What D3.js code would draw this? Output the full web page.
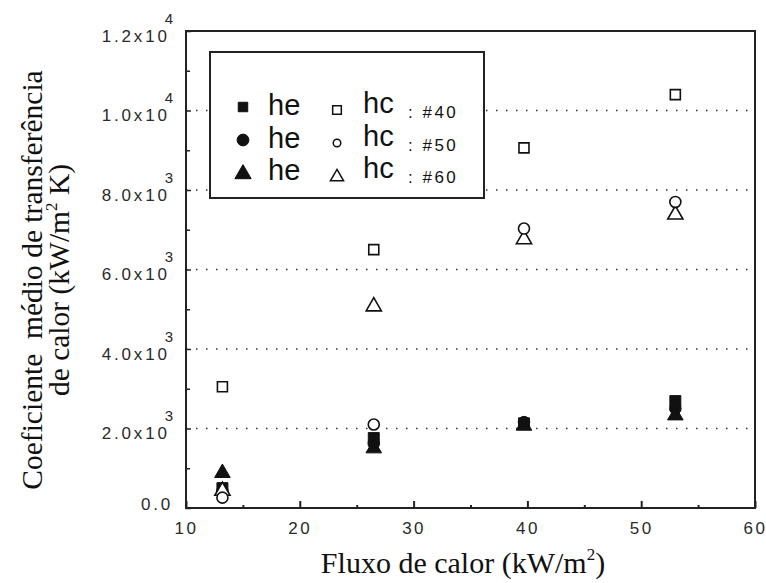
<!DOCTYPE html>
<html>
<head>
<meta charset="utf-8">
<script src="https://cdn.jsdelivr.net/npm/d3@7"></script>
<style>
  html, body { margin: 0; padding: 0; background: #fff; }
  svg { display: block; }
</style>
</head>
<body>
<div id="chart"></div>
<script>
(function() {
    "use strict";

    // data
    const fluxo = [13.2, 26.5, 39.7, 53.0];        // kW/m2
    const he40 = [500, 1760, 2130, 2690];
    const he50 = [430, 1620, 2160, 2500];
    const he60 = [880, 1500, 2070, 2330];
    const hc40 = [3050, 6500, 9060, 10400];
    const hc50 = [260, 2100, 7030, 7700];
    const hc60 = [430, 5070, 6760, 7380];
    const telas = ["#40", "#50", "#60"];

    // ticks
    const xTicks = [10, 20, 30, 40, 50, 60];
    const xMinor = [15, 25, 35, 45, 55];
    const yTicks = [0, 2000, 4000, 6000, 8000, 10000, 12000];
    const yMinor = [1000, 3000, 5000, 7000, 9000, 11000];
    const yMantissa = ["0.0", "2.0x10", "4.0x10", "6.0x10", "8.0x10", "1.0x10", "1.2x10"];
    const yExp = ["", "3", "3", "3", "3", "4", "4"];
    const gridValues = [2000, 4000, 6000, 8000, 10000];

    const width = 766, height = 583;
    const margin = {top: 31, right: 11, bottom: 75, left: 186};

    const svg = d3.select("#chart").append("svg")
        .attr("width", width).attr("height", height);

    const x = d3.scaleLinear().domain([10, 60]).range([margin.left, width - margin.right]);
    const y = d3.scaleLinear().domain([0, 12000]).range([height - margin.bottom, margin.top]);

    const sans = "'Liberation Sans', Arial, sans-serif";
    const serif = "'Liberation Serif', 'Times New Roman', serif";

    // dotted grid
    svg.append("g").selectAll("line")
        .data(gridValues).enter().append("line")
        .attr("x1", x(10)).attr("x2", x(60))
        .attr("y1", d => y(d)).attr("y2", d => y(d))
        .attr("stroke", "#333").attr("stroke-width", 1.5)
        .attr("stroke-dasharray", "1.5,8.5");

    // frame
    svg.append("rect")
        .attr("x", x(10)).attr("y", y(12000))
        .attr("width", x(60) - x(10)).attr("height", y(0) - y(12000))
        .attr("fill", "none").attr("stroke", "#222").attr("stroke-width", 2);

    // x axis
    const xAxis = svg.append("g")
        .attr("transform", `translate(0,${y(0)})`)
        .call(d3.axisBottom(x).tickValues(xTicks).tickSizeInner(-7).tickSizeOuter(0).tickPadding(14));
    xAxis.select(".domain").remove();
    xAxis.selectAll("line").attr("stroke", "#222").attr("stroke-width", 2);
    xAxis.selectAll("text")
        .attr("font-family", sans)
        .attr("font-size", 17).attr("letter-spacing", 2.5)
        .attr("dx", 0)
        .attr("fill", "#2a2a2a");

    svg.append("g")
        .attr("transform", `translate(0,${y(0)})`)
        .call(d3.axisBottom(x).tickValues(xMinor).tickSizeInner(-3).tickSizeOuter(0).tickFormat(""))
        .call(g => g.select(".domain").remove())
        .selectAll("line").attr("stroke", "#222").attr("stroke-width", 2);

    // y axis
    const yAxis = svg.append("g")
        .attr("transform", `translate(${x(10)},0)`)
        .call(d3.axisLeft(y).tickValues(yTicks).tickSizeInner(-5).tickSizeOuter(0).tickFormat(""));
    yAxis.select(".domain").remove();
    yAxis.selectAll("line").attr("stroke", "#222").attr("stroke-width", 1.5);

    svg.append("g")
        .attr("transform", `translate(${x(10)},0)`)
        .call(d3.axisLeft(y).tickValues(yMinor).tickSizeInner(-4).tickSizeOuter(0).tickFormat(""))
        .call(g => g.select(".domain").remove())
        .selectAll("line").attr("stroke", "#222").attr("stroke-width", 1.5);

    const yLab = svg.append("g").selectAll("text")
        .data(yTicks).enter().append("text")
        .attr("x", 173)
        .attr("y", (d, i) => y(d) + (yExp[i] ? 10.5 : 2))
        .attr("text-anchor", "end")
        .attr("font-family", sans)
        .attr("fill", "#2a2a2a");
    yLab.append("tspan")
        .attr("font-size", 17).attr("letter-spacing", 2.8)
        .text((d, i) => yMantissa[i]);
    yLab.filter((d, i) => yExp[i] !== "").append("tspan")
        .attr("font-size", 15).attr("dx", -5).attr("dy", -18)
        .text(d => yExp[yTicks.indexOf(d)]);

    // legend box
    const leg = svg.append("g");
    leg.append("rect")
        .attr("x", 210).attr("y", 52).attr("width", 274).attr("height", 146)
        .attr("fill", "#fff").attr("stroke", "#222").attr("stroke-width", 2);

    const shapes = [d3.symbolSquare, d3.symbolCircle, d3.symbolTriangle];
    const legFilled = [90, 110, 115];
    const legOpen = [75, 45, 75];
    const dataFilled = [120, 105, 105];
    const dataOpen = [100, 95, 100];

    const rowY = [107, 140, 174];
    const textY = [115, 148, 180];
    telas.forEach(function(t, i) {
        leg.append("path")
            .attr("transform", `translate(243,${rowY[i]})`)
            .attr("d", d3.symbol().type(shapes[i]).size(legFilled[i])())
            .attr("fill", "#111").attr("stroke", "#111").attr("stroke-width", 1);
        leg.append("text").attr("x", 268).attr("y", textY[i])
            .attr("font-family", sans)
            .attr("font-size", 29).attr("fill", "#111").text("he");
        leg.append("path")
            .attr("transform", `translate(337,${rowY[i] + 3})`)
            .attr("d", d3.symbol().type(shapes[i]).size(legOpen[i])())
            .attr("fill", "#fff").attr("stroke", "#111").attr("stroke-width", 1.5);
        leg.append("text").attr("x", 363).attr("y", textY[i] - 2)
            .attr("font-family", sans)
            .attr("font-size", 29).attr("fill", "#111").text("hc");
        leg.append("text").attr("x", 408).attr("y", textY[i] + 3)
            .attr("font-family", sans)
            .attr("font-size", 17).attr("letter-spacing", 2.5)
            .attr("fill", "#111").text(": " + t);
    });

    // points
    const heSeries = [he40, he50, he60];
    const hcSeries = [hc40, hc50, hc60];
    const pts = svg.append("g");
    heSeries.forEach(function(s, i) {
        pts.selectAll(null).data(s).enter().append("path")
            .attr("transform", (d, j) => `translate(${x(fluxo[j])},${y(d)})`)
            .attr("d", d3.symbol().type(shapes[i]).size(dataFilled[i])())
            .attr("fill", "#111").attr("stroke", "#111").attr("stroke-width", 1);
    });
    [0, 2, 1].forEach(function(i) {
        pts.selectAll(null).data(hcSeries[i]).enter().append("path")
            .attr("transform", (d, j) => `translate(${x(fluxo[j])},${y(d)})`)
            .attr("d", d3.symbol().type(shapes[i]).size(dataOpen[i])())
            .attr("fill", "#fff").attr("stroke", "#111").attr("stroke-width", 1.6);
    });

    // axis titles
    const xt = svg.append("text")
        .attr("x", 463).attr("y", 573).attr("text-anchor", "middle")
        .attr("font-family", serif).attr("font-size", 30).attr("fill", "#111");
    xt.append("tspan").text("Fluxo de calor (kW/m");
    xt.append("tspan").attr("font-size", 17).attr("dy", -13).text("2");
    xt.append("tspan").attr("dy", 13).text(")");

    const yt = svg.append("g").attr("transform", "translate(0,280) rotate(-90)");
    yt.append("text")
        .attr("x", 0).attr("y", 42).attr("text-anchor", "middle")
        .attr("font-family", serif).attr("font-size", 29.5).attr("fill", "#111")
        .style("white-space", "pre")
        .text("Coeficiente  médio de transferência");
    const yt2 = yt.append("text")
        .attr("x", 0).attr("y", 69).attr("text-anchor", "middle")
        .attr("font-family", serif).attr("font-size", 29.5).attr("fill", "#111");
    yt2.append("tspan").text("de calor (kW/m");
    yt2.append("tspan").attr("font-size", 17).attr("dy", -12).text("2");
    yt2.append("tspan").attr("dy", 12).text(" K)");
})();
</script>
</body>
</html>
